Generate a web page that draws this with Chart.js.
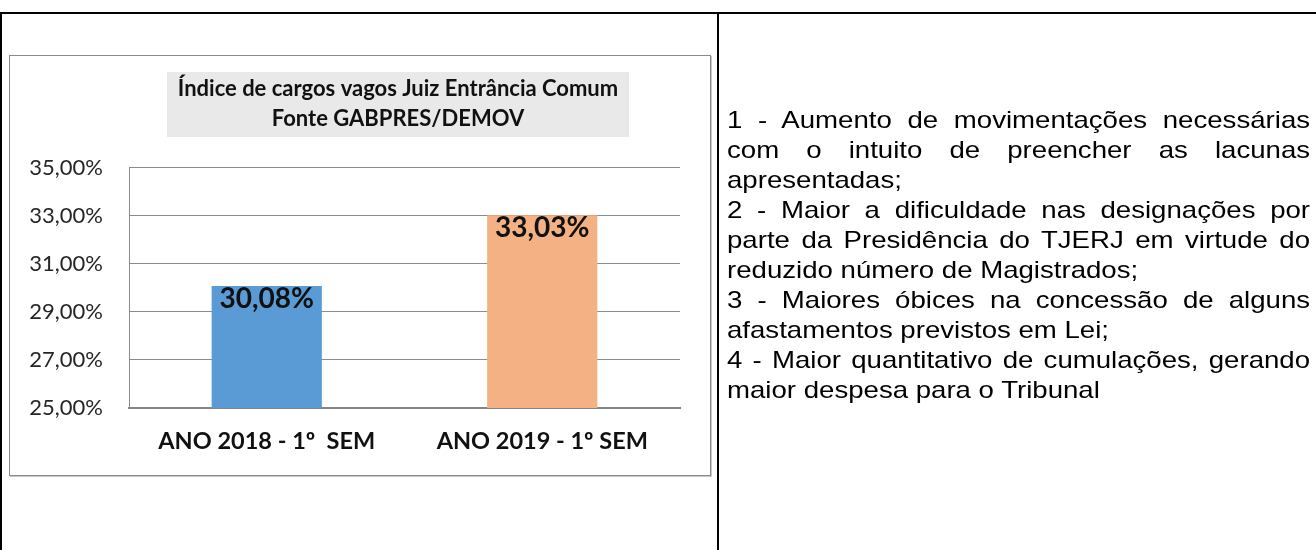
<!DOCTYPE html>
<html>
<head>
<meta charset="utf-8">
<script src="https://cdn.jsdelivr.net/npm/chart.js@4.4.1/dist/chart.umd.min.js"></script>
<style>
  html, body { margin: 0; padding: 0; background: #fff; width: 1316px; height: 550px; overflow: hidden; }
  .bline { position: absolute; background: #000; }
  #chartBox { position: absolute; left: 9px; top: 55px; width: 700px; height: 419px; border: 1px solid #8a8a8a; box-shadow: 1px 1px 0 #c8c8c8; }
  #chartWrap { position: absolute; left: 12px; top: 56px; width: 772px; height: 418px; }
  #notes { position: absolute; left: 727px; top: 105px; width: 507px; transform: scaleX(1.15); transform-origin: left top;
           font-family: "Liberation Sans", Arial, sans-serif; font-size: 24px; line-height: 30px; color: #000; }
  #notes div { white-space: nowrap; }
  #notes div.j { text-align: justify; text-align-last: justify; white-space: normal; }
</style>
</head>
<body>
<div class="bline" style="left:0;top:12px;width:1316px;height:2px;"></div>
<div class="bline" style="left:0;top:12px;width:2px;height:538px;"></div>
<div class="bline" style="left:717px;top:12px;width:2px;height:538px;"></div>
<div id="chartBox"></div>
<div id="chartWrap"><canvas id="c"></canvas></div>
<div id="notes"></div>
<script>
const titleLines = ["Índice de cargos vagos Juiz Entrância Comum", "Fonte GABPRES/DEMOV"];
const categories = ["ANO 2018 - 1º  SEM", "ANO 2019 - 1º SEM"];
const values = [30.08, 33.03];
const barColors = ["#5B9BD5", "#F4B183"];
const yTicks = [25, 27, 29, 31, 33, 35];
const noteLines = [
  ["1 - Aumento de movimentações necessárias", true],
  ["com o intuito de preencher as lacunas", true],
  ["apresentadas;", false],
  ["2 - Maior a dificuldade nas designações por", true],
  ["parte da Presidência do TJERJ em virtude do", true],
  ["reduzido número de Magistrados;", false],
  ["3 - Maiores óbices na concessão de alguns", true],
  ["afastamentos previstos em Lei;", false],
  ["4 - Maior quantitativo de cumulações, gerando", true],
  ["maior despesa para o Tribunal", false]
];

const notes = document.getElementById('notes');
noteLines.forEach(([t, j]) => {
  const d = document.createElement('div');
  d.textContent = t;
  if (j) d.className = 'j';
  notes.appendChild(d);
});

const fmt = v => v.toFixed(2).replace('.', ',') + '%';

const titleShift = {
  id: 'titleShift',
  afterLayout(chart) {
    const tb = chart.titleBlock;
    if (!tb) return;
    tb.left += 52;
    tb.right += 52;
  }
};

const titleBg = {
  id: 'titleBg',
  beforeDraw(chart) {
    const tb = chart.titleBlock;
    if (!tb) return;
    const ctx = chart.ctx;
    const cx = (tb.left + tb.right) / 2;
    ctx.save();
    ctx.fillStyle = '#e9e9e9';
    ctx.fillRect(cx - 231, tb.top + 16, 462, 65);
    ctx.restore();
  }
};

const valueLabels = {
  id: 'valueLabels',
  afterDatasetsDraw(chart) {
    const ctx = chart.ctx;
    const meta = chart.getDatasetMeta(0);
    ctx.save();
    ctx.font = 'bold 28px Lato';
    ctx.fillStyle = '#111';
    ctx.textAlign = 'center';
    ctx.textBaseline = 'alphabetic';
    meta.data.forEach((bar, i) => {
      ctx.fillText(fmt(values[i]), bar.x, bar.y + 22);
    });
    ctx.restore();
  }
};

new Chart(document.getElementById('c'), {
  type: 'bar',
  data: {
    labels: categories,
    datasets: [{
      data: values,
      backgroundColor: barColors,
      borderWidth: 0,
      barPercentage: 0.4,
      categoryPercentage: 1.0
    }]
  },
  options: {
    responsive: true,
    maintainAspectRatio: false,
    animation: false,
    layout: { padding: { left: 0, right: 104, top: 0, bottom: 0 } },
    plugins: {
      legend: { display: false },
      tooltip: { enabled: false },
      title: {
        display: true,
        text: titleLines,
        color: '#111',
        font: { family: 'Lato', weight: 'bold', size: 22, lineHeight: 1.3636 },
        padding: { top: 18, bottom: 34 }
      }
    },
    scales: {
      x: {
        grid: { display: false, drawTicks: false },
        border: { display: true, color: '#858585', width: 2 },
        ticks: { color: '#111', font: { family: 'Lato', weight: 'bold', size: 23.5 }, padding: 19, maxRotation: 0 },
        afterFit(s) { s.height = 66; }
      },
      y: {
        min: yTicks[0],
        max: yTicks[yTicks.length - 1],
        afterBuildTicks(s) { s.ticks = yTicks.map(v => ({ value: v })); },
        grid: { color: '#8c8c8c', lineWidth: 1, drawTicks: false },
        border: { display: true, color: '#8c8c8c', width: 1 },
        ticks: { color: '#262626', font: { family: 'Lato', size: 22 }, padding: 26, callback: v => fmt(v) },
        afterFit(s) { s.width = 117; }
      }
    }
  },
  plugins: [titleShift, titleBg, valueLabels]
});
</script>
</body>
</html>
